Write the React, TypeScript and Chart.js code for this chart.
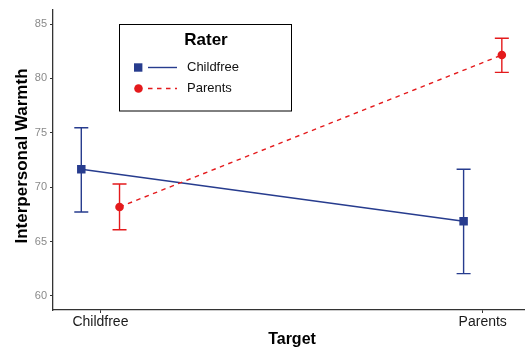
import React, { useEffect, useRef } from "react";
import { Chart, registerables } from "chart.js";

Chart.register(...registerables);

const categories = ["Childfree", "Parents"];
const raters = ["Childfree", "Parents"];
const childfreeMean = [71.65, 66.87];
const childfreeLow = [67.72, 62.05];
const childfreeHigh = [75.47, 71.65];
const parentsMean = [68.18, 82.15];
const parentsLow = [66.09, 80.56];
const parentsHigh = [70.29, 83.69];
const yTicks = [60, 65, 70, 75, 80, 85];

const BLUE = "#273C8E";
const RED = "#E41A1C";
const DODGE = 0.05;
const FONT = "'Liberation Sans', Arial, Helvetica, sans-serif";

const seriesData = (means: number[], offset: number) =>
  means.map((m, i) => ({ x: i + 1 + offset, y: m }));

export default function App() {
  const ref = useRef<HTMLCanvasElement | null>(null);

  useEffect(() => {
    document.body.style.margin = "0";
    const canvas = ref.current;
    if (!canvas) return;

    const errors = [
      { low: childfreeLow, high: childfreeHigh, offset: -DODGE, color: BLUE },
      { low: parentsLow, high: parentsHigh, offset: DODGE, color: RED },
    ];

    const errorBarPlugin = {
      id: "errorBars",
      beforeDatasetsDraw(chart: any) {
        const { ctx, scales } = chart;
        const xs = scales.x;
        const ys = scales.y;
        ctx.save();
        ctx.lineWidth = 1.4;
        errors.forEach((e) => {
          ctx.strokeStyle = e.color;
          e.low.forEach((lo, i) => {
            const x = xs.getPixelForValue(i + 1 + e.offset);
            const y1 = ys.getPixelForValue(lo);
            const y2 = ys.getPixelForValue(e.high[i]);
            ctx.beginPath();
            ctx.moveTo(x, y1);
            ctx.lineTo(x, y2);
            ctx.moveTo(x - 7, y1);
            ctx.lineTo(x + 7, y1);
            ctx.moveTo(x - 7, y2);
            ctx.lineTo(x + 7, y2);
            ctx.stroke();
          });
        });
        ctx.restore();
      },
    };

    const decorPlugin = {
      id: "decor",
      afterDraw(chart: any) {
        const { ctx } = chart;
        ctx.save();
        // axis titles
        ctx.fillStyle = "#000";
        ctx.font = `bold 16px ${FONT}`;
        ctx.textAlign = "center";
        ctx.textBaseline = "middle";
        ctx.fillText("Target", 292, 340);
        ctx.save();
        ctx.font = `bold 17px ${FONT}`;
        ctx.translate(22, 156);
        ctx.rotate(-Math.PI / 2);
        ctx.fillText("Interpersonal Warmth", 0, 0);
        ctx.restore();

        // legend
        const bx = 119.5, by = 24.5, bw = 172, bh = 86.5;
        ctx.fillStyle = "#fff";
        ctx.fillRect(bx, by, bw, bh);
        ctx.strokeStyle = "#000";
        ctx.lineWidth = 1;
        ctx.strokeRect(bx, by, bw, bh);
        ctx.fillStyle = "#000";
        ctx.font = `bold 17px ${FONT}`;
        ctx.textAlign = "center";
        ctx.fillText("Rater", 206, 40);

        const rows = [
          { label: raters[0], color: BLUE, dash: [] as number[], y: 67.5, shape: "rect" },
          { label: raters[1], color: RED, dash: [4.5, 4.5], y: 88.5, shape: "circle" },
        ];
        rows.forEach((r) => {
          ctx.strokeStyle = r.color;
          ctx.lineWidth = 1.4;
          ctx.setLineDash(r.dash);
          ctx.beginPath();
          ctx.moveTo(148, r.y);
          ctx.lineTo(177, r.y);
          ctx.stroke();
          ctx.setLineDash([]);
          ctx.fillStyle = r.color;
          if (r.shape === "rect") {
            ctx.fillRect(134, r.y - 4.2, 8.4, 8.4);
          } else {
            ctx.beginPath();
            ctx.arc(138.5, r.y, 4.3, 0, Math.PI * 2);
            ctx.fill();
          }
          ctx.fillStyle = "#111";
          ctx.font = `13px ${FONT}`;
          ctx.textAlign = "left";
          ctx.fillText(r.label, 187, r.y);
        });
        ctx.restore();
      },
    };

    const chart = new Chart(canvas, {
      type: "scatter",
      data: {
        datasets: [
          {
            label: raters[0],
            data: seriesData(childfreeMean, -DODGE),
            showLine: true,
            borderColor: BLUE,
            backgroundColor: BLUE,
            borderWidth: 1.4,
            pointStyle: "rect",
            pointRadius: 6,
            pointBorderWidth: 0,
            order: 2,
          },
          {
            label: raters[1],
            data: seriesData(parentsMean, DODGE),
            showLine: true,
            borderColor: RED,
            backgroundColor: RED,
            borderWidth: 1.4,
            borderDash: [4.5, 4.5],
            pointStyle: "circle",
            pointRadius: 4.3,
            pointBorderWidth: 0,
            order: 1,
          },
        ],
      },
      options: {
        animation: false,
        responsive: false,
        layout: { autoPadding: false, padding: { top: 10, right: 0, left: 0, bottom: 0 } },
        plugins: {
          legend: { display: false },
          tooltip: { enabled: false },
        },
        scales: {
          x: {
            type: "linear",
            min: 0.876,
            max: 2.1106,
            afterFit: (s: any) => {
              s.height = 40;
              s.paddingLeft = 0;
              s.paddingRight = 0;
            },
            afterBuildTicks: (s: any) => {
              s.ticks = categories.map((_, i) => ({ value: i + 1 }));
            },
            ticks: {
              callback: (v: any) => categories[Math.round(v) - 1] ?? "",
              color: "#1a1a1a",
              font: { family: FONT, size: 14 },
              padding: 1,
              maxRotation: 0,
              autoSkip: false,
            },
            grid: {
              drawOnChartArea: false,
              drawTicks: true,
              tickLength: 3,
              color: "#333",
            },
            border: { color: "#333", width: 1.3 },
          },
          y: {
            min: 58.71,
            max: 86.29,
            afterFit: (s: any) => {
              s.width = 53;
              s.paddingTop = 0;
              s.paddingBottom = 0;
            },
            afterBuildTicks: (s: any) => {
              s.ticks = yTicks.map((v) => ({ value: v }));
            },
            ticks: {
              color: "#8a8a8a",
              font: { family: FONT, size: 11 },
              padding: 3,
            },
            grid: {
              drawOnChartArea: false,
              drawTicks: true,
              tickLength: 3,
              color: "#333",
            },
            border: { color: "#333", width: 1.3 },
          },
        },
      },
      plugins: [errorBarPlugin, decorPlugin],
    });

    return () => chart.destroy();
  }, []);

  return (
    <div style={{ position: "absolute", left: 0, top: 0, width: 525, height: 350 }}>
      <canvas ref={ref} width={525} height={350} style={{ display: "block" }} />
    </div>
  );
}
